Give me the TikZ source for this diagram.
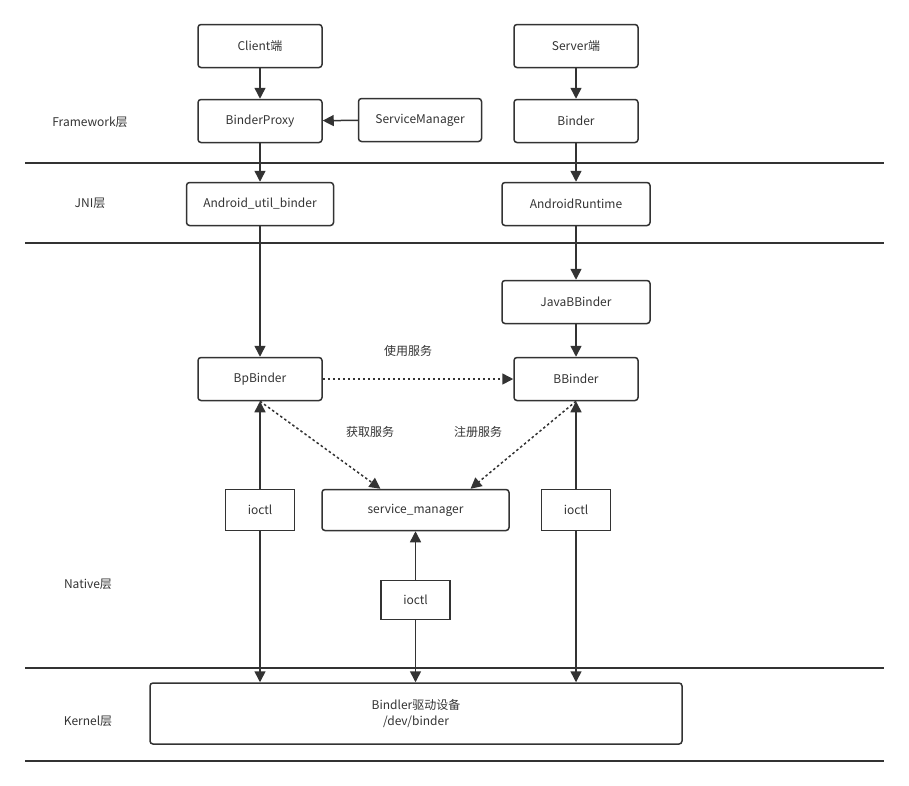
\documentclass[tikz,border=0pt]{standalone}
\usepackage{fontspec}
\setmainfont{Noto Sans CJK SC}
\usetikzlibrary{arrows.meta}
\definecolor{ink}{HTML}{333333}
\tikzset{
  box/.style={draw=ink, line width=1.5pt, rounded corners=3pt, minimum width=124pt, minimum height=43pt, inner sep=0pt, text=ink, font=\fontsize{12}{14}\selectfont},
  sbox/.style={draw=ink, line width=1.5pt, minimum width=69pt, minimum height=41pt, inner sep=0pt, text=ink, font=\fontsize{12}{14}\selectfont},
  lbl/.style={text=ink, font=\fontsize{12}{14}\selectfont, inner sep=0pt},
  arr/.style={draw=ink, line width=1.5pt, -{Triangle[length=11pt,width=11pt]}},
  darr/.style={arr, dash pattern=on 2.5pt off 2.5pt},
  layer/.style={draw=ink, line width=1.5pt}
}
\begin{document}
\begin{tikzpicture}[x=1pt,y=-1pt]
\useasboundingbox (0,0) rectangle (909,785);
% layer lines
\coordinate (l1a) at (25,163); \coordinate (l1b) at (884,163);
\coordinate (l2a) at (25,243); \coordinate (l2b) at (884,243);
\coordinate (l3a) at (25,668); \coordinate (l3b) at (884,668);
\coordinate (l4a) at (25,761); \coordinate (l4b) at (884,761);
\draw[layer] (l1a) -- (l1b);
\draw[layer] (l2a) -- (l2b);
\draw[layer] (l3a) -- (l3b);
\draw[layer] (l4a) -- (l4b);
% layer labels
\node[lbl] (fw) at (90,122) {Framework层};
\node[lbl] (jni) at (90,203) {JNI层};
\node[lbl] (nat) at (88,584) {Native层};
\node[lbl] (ker) at (88,721) {Kernel层};
% boxes
\node[box] (client) at (260,46) {Client端};
\node[box] (server) at (576,46) {Server端};
\node[box] (proxy) at (260,121) {BinderProxy};
\node[box, minimum width=123pt] (sm) at (420,120) {ServiceManager};
\node[box] (binder) at (576,121) {Binder};
\node[box, minimum width=147pt] (aub) at (260,204) {Android\_util\_binder};
\node[box, minimum width=148pt] (art) at (576,204) {AndroidRuntime};
\node[box, minimum width=148pt] (jbb) at (576,302) {JavaBBinder};
\node[box] (bp) at (260,379) {BpBinder};
\node[box] (bb) at (576,379) {BBinder};
\node[sbox] (io1) at (260,510) {ioctl};
\node[box, minimum width=187pt, minimum height=41pt] (svm) at (415.5,510) {service\_manager};
\node[sbox] (io3) at (576,510) {ioctl};
\node[sbox, minimum height=39pt] (io2) at (415.5,600) {ioctl};
\node[box, minimum width=532pt, minimum height=61pt, align=center, font=\fontsize{12}{16}\selectfont] (kern) at (416,713.5) {Bindler驱动设备\\/dev/binder};
% labels
\node[lbl] (use) at (408,351) {使用服务};
\node[lbl] (get) at (370,432) {获取服务};
\node[lbl] (reg) at (478,432) {注册服务};
% arrows
\draw[arr] (client) -- (proxy);
\draw[arr] (sm) -- (proxy);
\draw[arr] (server) -- (binder);
\draw[arr] (proxy) -- (aub);
\draw[arr] (binder) -- (art);
\draw[arr] (aub) -- (bp);
\draw[arr] (art) -- (jbb);
\draw[arr] (jbb) -- (bb);
\draw[darr] (bp) -- (bb);
\draw[darr] (bp.south) -- ([xshift=-35pt]svm.north);
\draw[darr] (bb.south) -- ([xshift=55pt]svm.north);
\draw[arr] (io1) -- (bp);
\draw[arr] (io1) -- (io1 |- kern.north);
\draw[arr] (io3) -- (bb);
\draw[arr] (io3) -- (io3 |- kern.north);
\draw[arr] (io2) -- (svm);
\draw[arr] (io2) -- (io2 |- kern.north);
\end{tikzpicture}
\end{document}
